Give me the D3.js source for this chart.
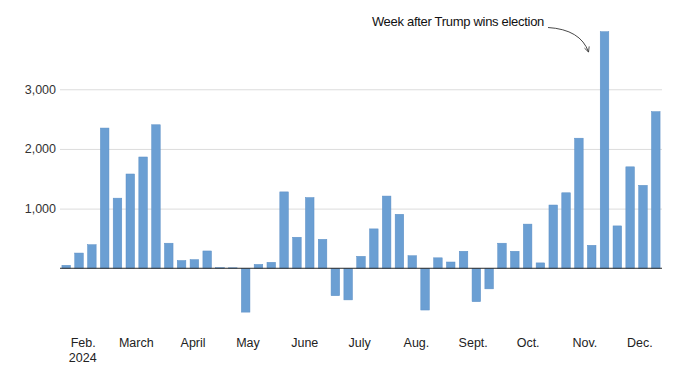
<!DOCTYPE html>
<html>
<head>
<meta charset="utf-8">
<script src="https://cdn.jsdelivr.net/npm/d3@7"></script>
<style>
  body { margin: 0; background: #fff; }
  svg { display: block; font-family: "Liberation Sans", Arial, sans-serif; }
</style>
</head>
<body>
<div id="chart"></div>
<script>
// weekly values, first week of Feb. 2024 through mid Dec.
const values = [
    50, 255, 395, 2350, 1175, 1580, 1865, 2405, 420, 130,
    145, 290, 12, 8, -735, 65, 100, 1280, 520, 1185,
    485, -460, -530, 200, 660, 1210, 905, 210, -700, 175,
    105, 285, -560, -345, 420, 285, 740, 90, 1060, 1265,
    2180, 385, 3965, 710, 1700, 1390, 2625
];
const firstWeek = new Date(2024, 1, 6);
const weeks = values.map((v, i) => d3.timeDay.offset(firstWeek, 7 * i));

const monthLabels = ["Feb.", "March", "April", "May", "June", "July", "Aug.", "Sept.", "Oct.", "Nov.", "Dec."];
const monthDates = monthLabels.map((m, i) => new Date(2024, i + 1, 15));
const yTicks = [1000, 2000, 3000];
const noteText = "Week after Trump wins election";
const noteWeek = 42;

const width = 700, height = 372;
const margin = { top: 29.6, right: 38, bottom: 56, left: 60 };

const svg = d3.select("#chart")
    .append("svg")
    .attr("width", width)
    .attr("height", height);

const x = d3.scaleBand()
    .domain(d3.range(values.length))
    .range([margin.left, width - margin.right])
    .paddingInner(0.33)
    .paddingOuter(0.15);

// time scale lined up with the bar centres, for the month labels
const xt = d3.scaleTime()
    .domain([weeks[0], weeks[weeks.length - 1]])
    .range([x(0) + x.bandwidth() / 2, x(values.length - 1) + x.bandwidth() / 2]);

const y = d3.scaleLinear()
    .domain([-800, 4000])
    .range([height - margin.bottom, margin.top]);

// gridlines + y labels
const yAxis = d3.axisLeft(y)
    .tickValues(yTicks)
    .tickSize(-(width - margin.left - margin.right))
    .tickPadding(4)
    .tickFormat(d3.format(","));

svg.append("g")
    .attr("transform", "translate(" + margin.left + ",0)")
    .call(yAxis)
    .call(g => g.select(".domain").remove())
    .call(g => g.selectAll(".tick line").attr("stroke", "#dcdcdc"))
    .call(g => g.selectAll(".tick text")
        .attr("fill", "#333")
        .attr("font-size", "12.5px")
        .attr("x", -4));

svg.selectAll(".bar")
    .data(values)
    .enter()
    .append("rect")
    .attr("class", "bar")
    .attr("x", (d, i) => x(i))
    .attr("y", d => y(Math.max(0, d)))
    .attr("width", x.bandwidth())
    .attr("height", d => Math.abs(y(d) - y(0)))
    .attr("fill", "#6b9fd3")
    .attr("stroke", "#5c8fc6")
    .attr("stroke-width", 0.5);

// zero line
svg.append("line")
    .attr("x1", margin.left)
    .attr("x2", width - margin.right)
    .attr("y1", y(0))
    .attr("y2", y(0))
    .attr("stroke", "#2a2a2a")
    .attr("stroke-width", 1);

// month labels
const xAxis = d3.axisBottom(xt)
    .tickValues(monthDates)
    .tickSize(0)
    .tickPadding(0)
    .tickFormat((d, i) => monthLabels[i]);

svg.append("g")
    .attr("transform", "translate(0,338)")
    .call(xAxis)
    .call(g => g.select(".domain").remove())
    .call(g => g.selectAll(".tick text")
        .attr("fill", "#222")
        .attr("font-size", "12.5px"));

svg.append("text")
    .attr("x", xt(monthDates[0]))
    .attr("y", 362)
    .attr("text-anchor", "middle")
    .attr("fill", "#222")
    .attr("font-size", "12.5px")
    .text("2024");

// annotation
svg.append("defs").append("marker")
    .attr("id", "arrow")
    .attr("viewBox", "0 0 10 10")
    .attr("refX", 9)
    .attr("refY", 5)
    .attr("markerWidth", 7)
    .attr("markerHeight", 7)
    .attr("orient", "auto")
    .append("path")
    .attr("d", "M1,1 L9,5 L1,9")
    .attr("fill", "none")
    .attr("stroke", "#333")
    .attr("stroke-width", 1.2);

const noteX = x(noteWeek) + x.bandwidth() / 2;
const sx = 548, sy = 27.5;
const ex = noteX - 16, ey = 52;
svg.append("path")
    .attr("d", "M" + sx + "," + sy + " Q" + (ex - 8) + "," + (sy + 2) + " " + ex + "," + ey)
    .attr("fill", "none")
    .attr("stroke", "#333")
    .attr("stroke-width", 0.9)
    .attr("marker-end", "url(#arrow)");

svg.append("text")
    .attr("x", sx - 4)
    .attr("y", 26)
    .attr("text-anchor", "end")
    .attr("fill", "#111")
    .attr("font-size", "13px")
    .attr("letter-spacing", "-0.3px")
    .text(noteText);
</script>
</body>
</html>
